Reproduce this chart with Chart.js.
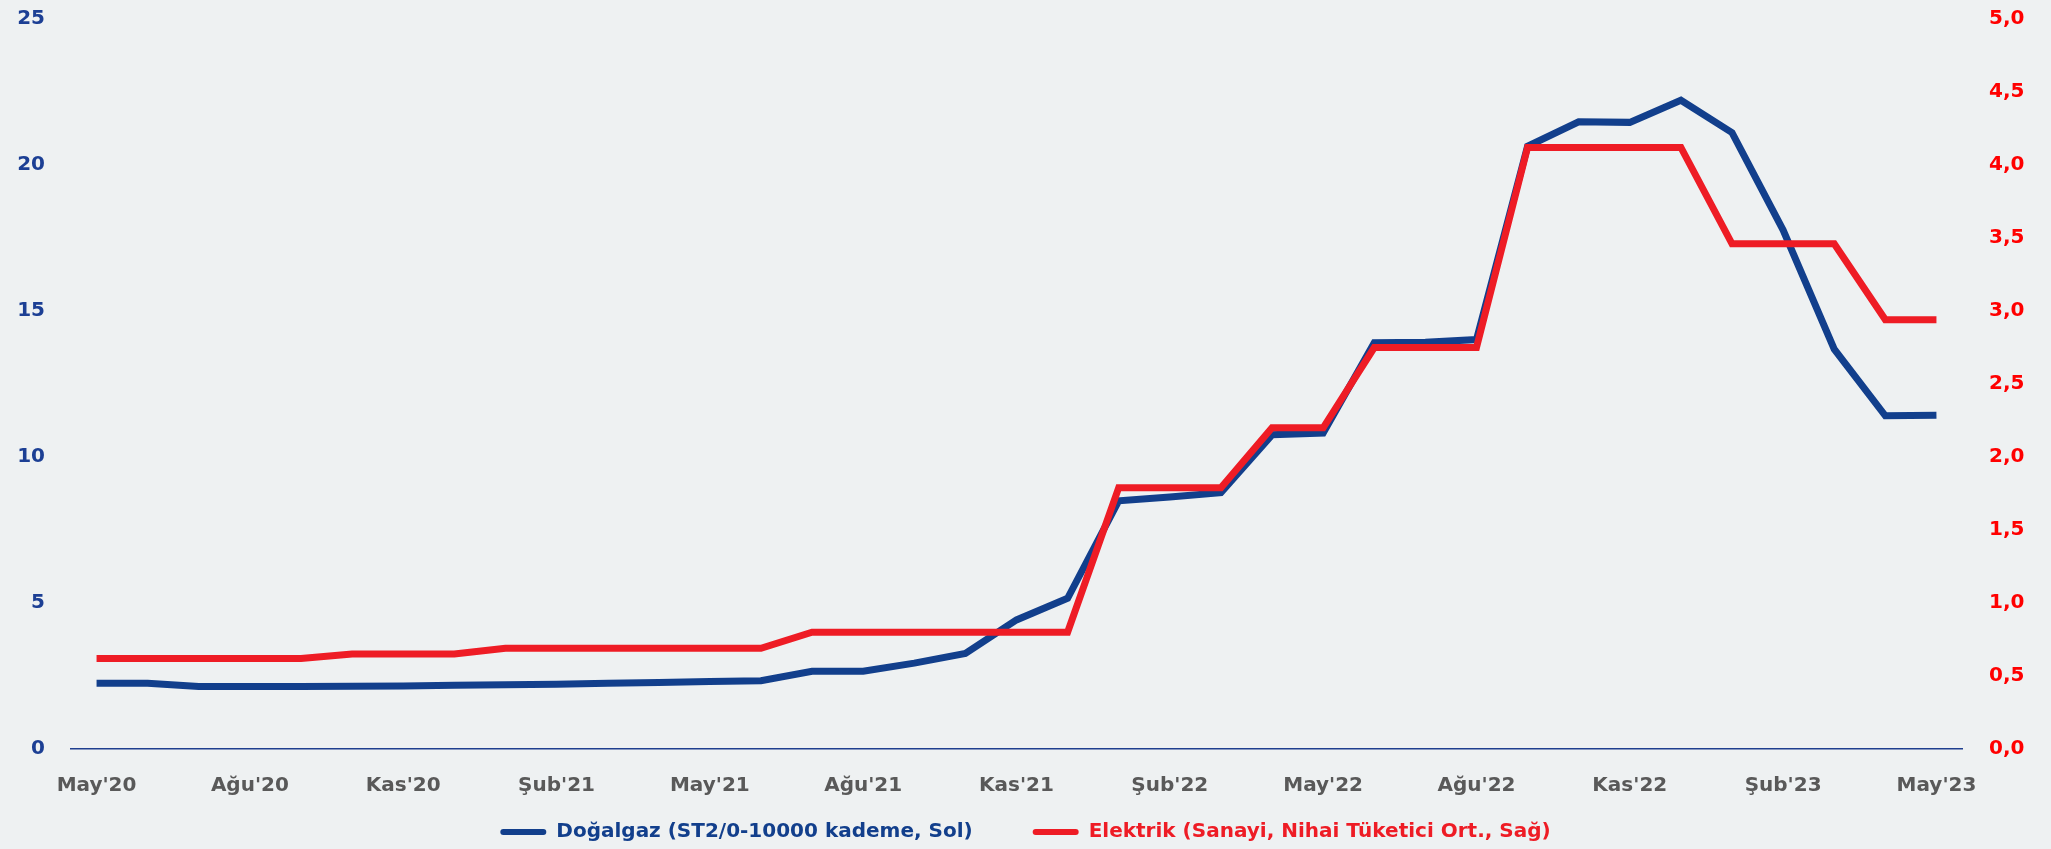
<!DOCTYPE html>
<html>
<head>
<meta charset="utf-8">
<script src="https://cdn.jsdelivr.net/npm/chart.js@4/dist/chart.umd.min.js"></script>
<style>
  html, body { margin: 0; padding: 0; background: #eef1f2; }
  #wrap { width: 2051px; height: 849px; position: relative; }
  canvas { display: block; }
</style>
</head>
<body>
<div id="wrap"><canvas id="c" width="2051" height="849"></canvas></div>
<script>
const months = [
  "May'20","Haz'20","Tem'20","Ağu'20","Eyl'20","Eki'20","Kas'20","Ara'20",
  "Oca'21","Şub'21","Mar'21","Nis'21","May'21","Haz'21","Tem'21","Ağu'21","Eyl'21","Eki'21","Kas'21","Ara'21",
  "Oca'22","Şub'22","Mar'22","Nis'22","May'22","Haz'22","Tem'22","Ağu'22","Eyl'22","Eki'22","Kas'22","Ara'22",
  "Oca'23","Şub'23","Mar'23","Nis'23","May'23"
];
const gasLabel = "Doğalgaz (ST2/0-10000 kademe, Sol)";
const elecLabel = "Elektrik (Sanayi, Nihai Tüketici Ort., Sağ)";
const gasValues = [
  2.25, 2.25, 2.14, 2.14, 2.14, 2.15, 2.16, 2.18, 2.20, 2.22, 2.25, 2.28, 2.31, 2.34,
  2.66, 2.66, 2.94, 3.27, 4.42, 5.16, 8.50, 8.63, 8.78, 10.76, 10.82, 13.91, 13.93, 14.02,
  20.64, 21.48, 21.46, 22.22, 21.11, 17.77, 13.69, 11.41, 11.43
];
const elecValues = [
  0.62, 0.62, 0.62, 0.62, 0.62, 0.65, 0.65, 0.65, 0.69, 0.69, 0.69, 0.69, 0.69, 0.69,
  0.80, 0.80, 0.80, 0.80, 0.80, 0.80, 1.79, 1.79, 1.79, 2.20, 2.20, 2.75, 2.75, 2.75,
  4.12, 4.12, 4.12, 4.12, 3.46, 3.46, 3.46, 2.94, 2.94
];
const leftTicks = [0, 5, 10, 15, 20, 25];
const rightTicks = [0, 0.5, 1, 1.5, 2, 2.5, 3, 3.5, 4, 4.5, 5];

const BLUE = '#123f8c';
const RED = '#ee1c25';
const FONT = "'DejaVu Sans', 'Open Sans', sans-serif";
const FS = 20;

const legendFix = {
  id: 'legendFix',
  beforeLayout(chart) {
    const lg = chart.legend;
    if (lg && !lg._patched) {
      const f = lg.fit.bind(lg);
      lg.fit = function () { f(); this.height = 45; };
      const d = lg.draw.bind(lg);
      lg.draw = function () {
        const t = this.top, b = this.bottom;
        this.top = 762; this.bottom = 849;
        d();
        this.top = t; this.bottom = b;
      };
      lg._patched = true;
    }
  }
};

new Chart(document.getElementById('c'), {
  type: 'line',
  data: {
    labels: months,
    datasets: [
      { label: gasLabel, data: gasValues, yAxisID: 'y', borderColor: BLUE, backgroundColor: BLUE,
        borderWidth: 7, pointRadius: 0, tension: 0, order: 2 },
      { label: elecLabel, data: elecValues, yAxisID: 'y1', borderColor: RED, backgroundColor: RED,
        borderWidth: 7, pointRadius: 0, tension: 0, order: 1 }
    ]
  },
  options: {
    responsive: false,
    animation: false,
    layout: { padding: { top: 19, bottom: 0, left: 0, right: 0 } },
    plugins: {
      tooltip: { enabled: false },
      legend: {
        position: 'bottom',
        labels: {
          font: { family: FONT, size: FS, weight: 'bold' },
          padding: 60,
          boxWidth: 46,
          boxHeight: 6,
          useBorderRadius: true,
          borderRadius: 3,
          sort: (a, b) => a.datasetIndex - b.datasetIndex,
          generateLabels(chart) {
            return chart.data.datasets.map((ds, i) => ({
              text: ds.label,
              fillStyle: ds.borderColor,
              strokeStyle: ds.borderColor,
              fontColor: ds.borderColor,
              lineWidth: 0,
              hidden: false,
              datasetIndex: i,
              borderRadius: 3
            }));
          }
        }
      }
    },
    scales: {
      x: {
        offset: true,
        grid: { display: true, drawOnChartArea: false, drawTicks: false, color: 'transparent' },
        border: { display: true, color: '#1f3f8f', width: 1.5 },
        ticks: {
          autoSkip: false, maxRotation: 0, minRotation: 0, padding: 25,
          color: '#595959',
          font: { family: FONT, size: FS, weight: 'bold' },
          callback: function (v, i) { return i % 3 === 0 ? months[i] : ''; }
        },
        afterFit(scale) { scale.height = 55; }
      },
      y: {
        position: 'left',
        min: 0, max: 25,
        afterBuildTicks(scale) { scale.ticks = leftTicks.map(v => ({ value: v })); },
        grid: { display: false, drawTicks: false },
        border: { display: false },
        ticks: {
          padding: 26, color: '#1c3f94',
          font: { family: FONT, size: FS, weight: 'bold' },
          callback: v => String(v)
        },
        afterFit(scale) { scale.width = 71; scale.paddingTop = 10; scale.paddingBottom = 10; }
      },
      y1: {
        position: 'right',
        min: 0, max: 5,
        afterBuildTicks(scale) { scale.ticks = rightTicks.map(v => ({ value: v })); },
        grid: { display: false, drawTicks: false },
        border: { display: false },
        ticks: {
          padding: 27, color: '#ff0000',
          font: { family: FONT, size: FS, weight: 'bold' },
          callback: v => Number(v).toFixed(1).replace('.', ',')
        },
        afterFit(scale) { scale.width = 89; scale.paddingTop = 10; scale.paddingBottom = 10; }
      }
    }
  },
  plugins: [legendFix]
});
</script>
</body>
</html>
